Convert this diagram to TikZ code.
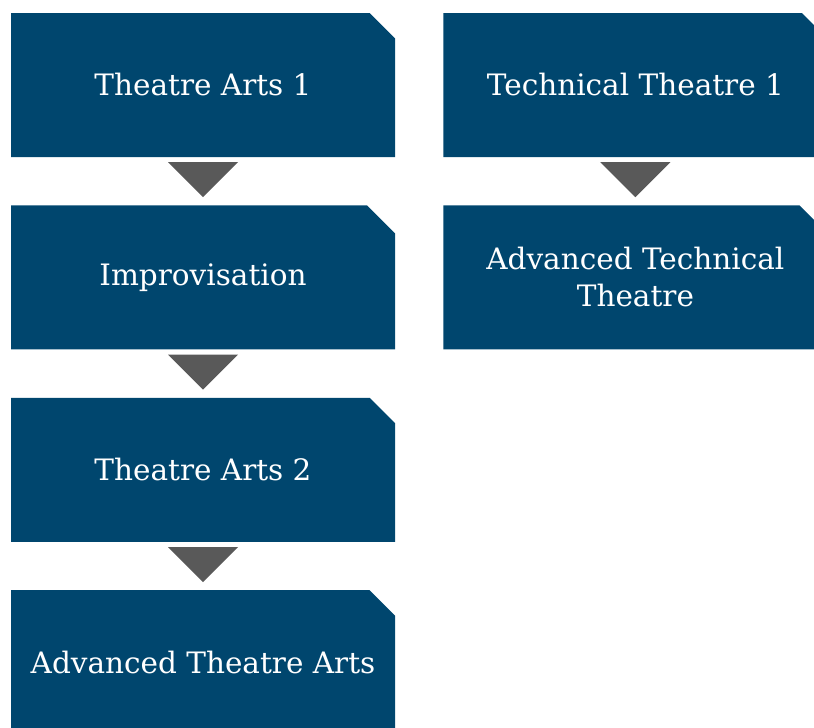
\documentclass[tikz,border=0pt]{standalone}
\usepackage{fontspec}
\setmainfont{DejaVu Serif}
\usetikzlibrary{positioning,shapes.misc}
\definecolor{boxblue}{HTML}{00466E}
\definecolor{arrowgray}{HTML}{595959}
\tikzset{
  course/.style={chamfered rectangle, chamfered rectangle corners=north east,
    chamfered rectangle xsep=14pt, chamfered rectangle ysep=14pt,
    fill=boxblue, text=white, minimum width=384pt, minimum height=144pt,
    inner sep=0pt, align=center, font=\fontsize{29.5}{37}\selectfont},
  pointer/.style={fill=arrowgray}
}
\begin{document}
\begin{tikzpicture}
\clip (0,0) rectangle (814pt,-728pt);
\node[course] (arts1) at (203pt,-85pt) {Theatre Arts 1};
\node[course, below=48pt of arts1] (improv) {Improvisation};
\node[course, below=48pt of improv] (arts2) {Theatre Arts 2};
\node[course, below=48pt of arts2] (advarts) {Advanced Theatre Arts};
\node[course, right=48pt of arts1] (tech1) {Technical Theatre 1};
\node[course, below=48pt of tech1] (advtech) {Advanced Technical\\Theatre};
\fill[pointer] ([yshift=-5pt]arts1.south) ++(-35pt,0) -- ++(70pt,0) -- ++(-35pt,-35pt) -- cycle;
\fill[pointer] ([yshift=-5pt]improv.south) ++(-35pt,0) -- ++(70pt,0) -- ++(-35pt,-35pt) -- cycle;
\fill[pointer] ([yshift=-5pt]arts2.south) ++(-35pt,0) -- ++(70pt,0) -- ++(-35pt,-35pt) -- cycle;
\fill[pointer] ([yshift=-5pt]tech1.south) ++(-35pt,0) -- ++(70pt,0) -- ++(-35pt,-35pt) -- cycle;
\end{tikzpicture}
\end{document}
